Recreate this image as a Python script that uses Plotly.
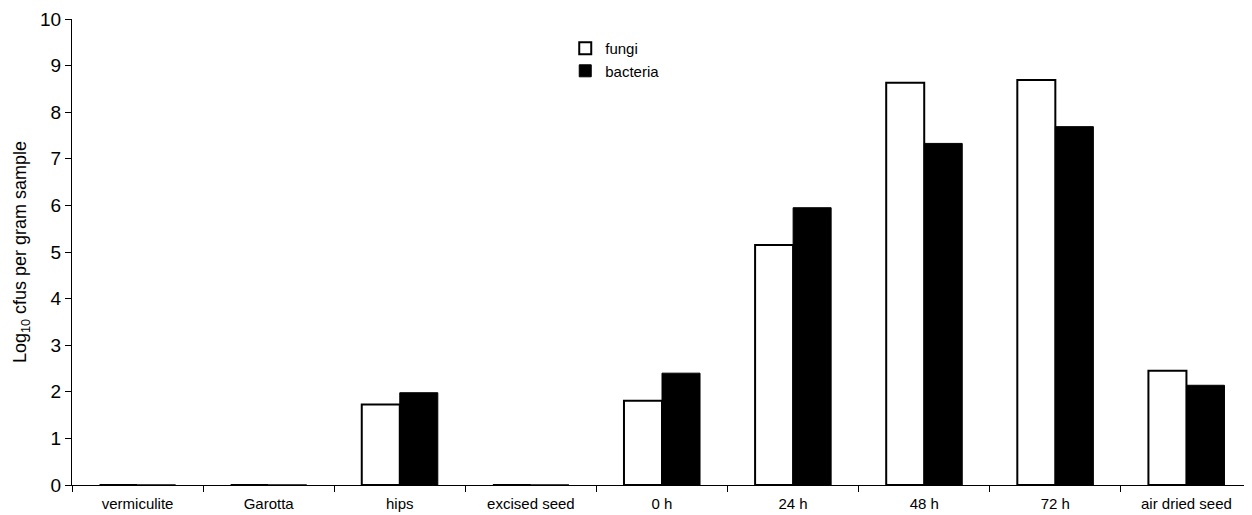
import plotly.graph_objects as go

categories = ["vermiculite", "Garotta", "hips", "excised seed", "0 h", "24 h", "48 h", "72 h", "air dried seed"]
fungi = [0, 0, 1.73, 0, 1.81, 5.15, 8.63, 8.69, 2.45]
bacteria = [0, 0, 1.98, 0, 2.40, 5.95, 7.33, 7.69, 2.14]
y_ticks = list(range(0, 11))

fig = go.Figure()
fig.add_trace(go.Bar(x=categories, y=fungi, name="fungi",
                     marker=dict(color="white", line=dict(color="black", width=2))))
fig.add_trace(go.Bar(x=categories, y=bacteria, name="bacteria",
                     marker=dict(color="black", line=dict(color="black", width=1))))

fig.update_layout(
    width=1252, height=515,
    margin=dict(l=64, r=8, t=11, b=38, autoexpand=False),
    paper_bgcolor="white", plot_bgcolor="white",
    barmode="group", bargap=0.42, bargroupgap=0,
    font=dict(family="Liberation Sans, Arial, sans-serif", color="black"),
    showlegend=True,
    legend=dict(x=0.418, y=0.972, xanchor="left", yanchor="top",
                font=dict(size=15), bgcolor="rgba(0,0,0,0)",
                itemwidth=30, tracegroupgap=2),
)
fig.update_xaxes(
    type="category", showline=True, linecolor="black", linewidth=1,
    ticks="outside", tickson="boundaries", ticklen=6, tickcolor="black",
    tickfont=dict(size=15), ticklabelstandoff=5, showgrid=False, zeroline=False,
)
fig.update_yaxes(
    range=[0, 10], tickvals=y_ticks, showline=True, linecolor="black", linewidth=1,
    ticks="outside", ticklen=6, tickcolor="black", tickfont=dict(size=19),
    showgrid=False, zeroline=False,
    title=dict(text="Log<sub>10</sub> cfus per gram sample", font=dict(size=18), standoff=8),
)

fig.write_html("out.html")
